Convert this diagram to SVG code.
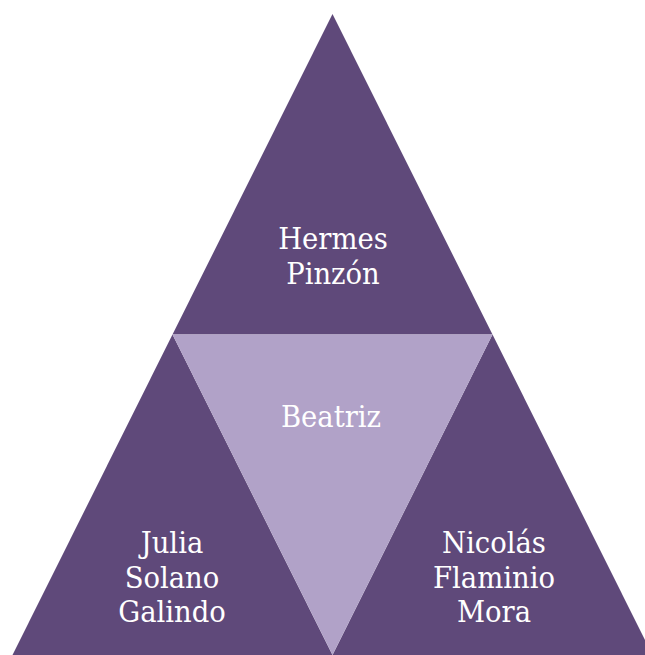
<svg xmlns="http://www.w3.org/2000/svg" width="645" height="655" viewBox="0 0 645 655">
<style>
.dark{fill:#5F497A}
.light{fill:#B1A2C8}
text{font-family:"DejaVu Serif Condensed","DejaVu Serif","Liberation Serif",serif;font-stretch:condensed;font-size:30.5px;fill:#FFFFFF;text-anchor:middle}
</style>
<rect width="645" height="655" fill="#FFFFFF"/>
<g id="top"><polygon class="dark" points="332.5,14 492.5,334.5 172.5,334.5"/><text x="333" y="249">Hermes</text><text x="333" y="284">Pinzón</text></g>
<g id="left"><polygon class="dark" points="172.5,334.5 332.5,655 12.5,655"/><text x="172" y="553">Julia</text><text x="172" y="587.5">Solano</text><text x="172" y="622">Galindo</text></g>
<g id="right"><polygon class="dark" points="492.5,334.5 652.5,655 332.5,655"/><text x="494" y="553">Nicolás</text><text x="494" y="587.5">Flaminio</text><text x="494" y="622">Mora</text></g>
<g id="middle"><polygon class="light" points="172.5,334.5 492.5,334.5 332.5,655"/><text x="331" y="427">Beatriz</text></g>
<g id="connectors"></g>
</svg>
